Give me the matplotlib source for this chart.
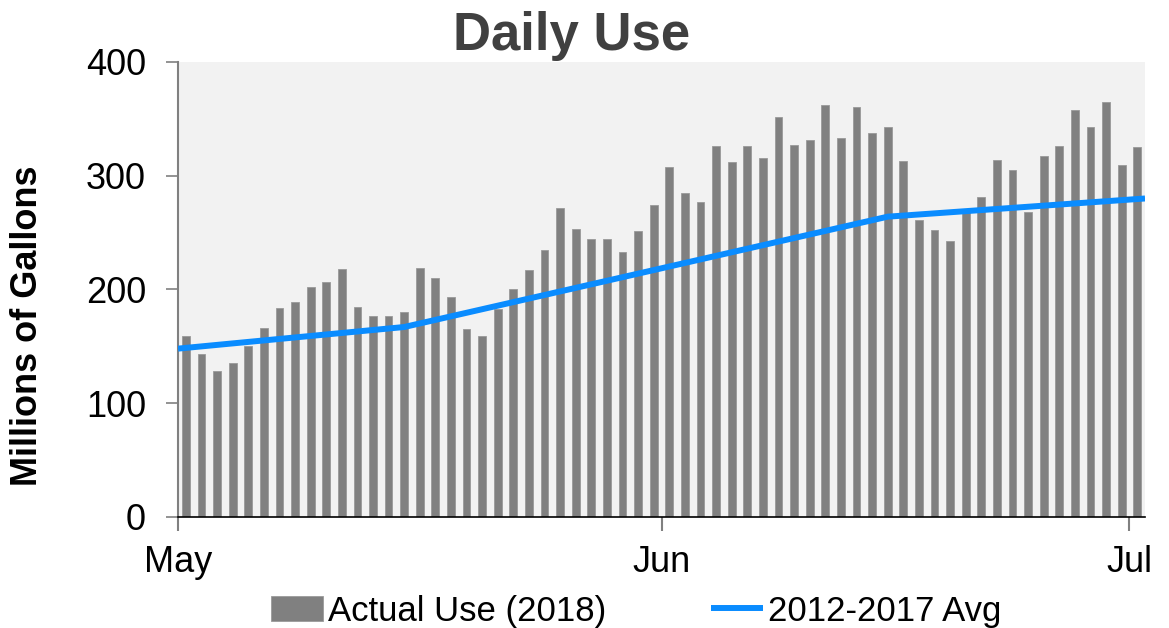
import numpy as np
import pandas as pd
import matplotlib.pyplot as plt
import matplotlib.dates as mdates

plt.rcParams['font.family'] = ['Liberation Sans', 'DejaVu Sans']

# daily use, May 1 .. Jul 1 2018 (millions of gallons)
days = pd.date_range("2018-05-01", "2018-07-01", freq="D")
actual = [159, 143, 128, 135, 150, 166, 184, 189, 202, 207, 218, 185, 177, 177, 180,
          219, 210, 193, 165, 159, 183, 200, 217, 235, 272, 253, 244, 244, 233, 251, 274,
          308, 285, 277, 326, 312, 326, 316, 352, 327, 331, 362, 333, 360, 338, 343,
          313, 261, 252, 243, 271, 281, 314, 305, 268, 317, 326, 358, 343, 365, 309,
          325]

avg_dates = pd.to_datetime(["2018-05-01 00:00", "2018-05-15 12:00", "2018-06-15 12:00", "2018-07-02 00:00"])
avg_vals = [148, 167, 264, 280]

fig = plt.figure(figsize=(11.69, 6.28), dpi=100)
ax = fig.add_axes([0.1523, 0.1768, 0.8272, 0.7245])
ax.set_facecolor('#f2f2f2')

bar_x = days + pd.Timedelta(hours=12)
bars = ax.bar(bar_x, actual, width=0.5, color='#808080', edgecolor='#9a9a9a', linewidth=0.6,
              label='Actual Use (2018)', zorder=2)
line, = ax.plot(avg_dates, avg_vals, color='#0a8cff', linewidth=4.3, label='2012-2017 Avg',
                zorder=3, solid_capstyle='butt')

ax.set_ylim(0, 400)
ax.set_yticks([0, 100, 200, 300, 400])
ax.set_xlim(pd.Timestamp("2018-05-01"), pd.Timestamp("2018-07-02"))
ax.set_xticks(pd.to_datetime(["2018-05-01", "2018-06-01", "2018-07-01"]))
ax.xaxis.set_major_formatter(mdates.DateFormatter('%b'))

for s in ['top', 'right']:
    ax.spines[s].set_visible(False)
ax.spines['left'].set_color('#808080')
ax.spines['left'].set_linewidth(1.5)
ax.spines['bottom'].set_color('black')
ax.spines['bottom'].set_linewidth(1.2)

ax.tick_params(axis='y', labelsize=26, length=9, width=1.2, color='#808080', pad=14)
ax.tick_params(axis='x', labelsize=26, length=10, width=1.5, color='#808080', pad=10)

ax.set_ylabel('Millions of Gallons', fontsize=26, fontweight='bold')
ax.yaxis.set_label_coords(-0.138, 0.42)
fig.text(572 / 1169, 1 - 50 / 628, 'Daily Use', fontsize=38, fontweight='bold',
         color='#404040', ha='center', va='baseline')

fig.legend([bars, line], ['Actual Use (2018)', '2012-2017 Avg'], loc='center',
           bbox_to_anchor=(636 / 1169, 1 - 611 / 628), ncol=2, frameon=False,
           fontsize=25, handlelength=1.5, columnspacing=3.0, handletextpad=0.15,
           borderpad=0, borderaxespad=0)

plt.savefig('out.png', dpi=100)
